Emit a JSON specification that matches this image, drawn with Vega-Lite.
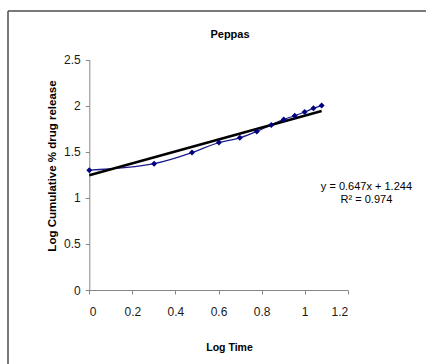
{
  "$schema": "https://vega.github.io/schema/vega-lite/v6.json",
  "width": 418,
  "height": 353,
  "autosize": "none",
  "padding": {"left": 8, "top": 11, "right": 0, "bottom": 0},
  "background": "white",
  "config": {
    "view": {"stroke": "#4d4d4d", "strokeWidth": 1.5, "strokeDash": [418, 771, 353, 0]},
    "font": "Liberation Sans, Arial"
  },
  "title": {
    "text": "Peppas",
    "font": "Liberation Sans, Arial",
    "fontSize": 11,
    "fontWeight": "bold",
    "color": "#000000",
    "anchor": "middle",
    "frame": "group",
    "orient": "top",
    "baseline": "bottom",
    "offset": -40,
    "dx": 13
  },
  "datasets": {
    "release": [
      {"logTime": 0, "logRel": 1.30},
      {"logTime": 0.301, "logRel": 1.37},
      {"logTime": 0.477, "logRel": 1.49},
      {"logTime": 0.602, "logRel": 1.60},
      {"logTime": 0.699, "logRel": 1.65},
      {"logTime": 0.778, "logRel": 1.72},
      {"logTime": 0.845, "logRel": 1.79},
      {"logTime": 0.903, "logRel": 1.85},
      {"logTime": 0.954, "logRel": 1.89},
      {"logTime": 1.0, "logRel": 1.93},
      {"logTime": 1.041, "logRel": 1.97},
      {"logTime": 1.079, "logRel": 2.00}
    ],
    "trend": [
      {"logTime": 0, "fit": 1.244},
      {"logTime": 1.079, "fit": 1.942}
    ],
    "note": [
      {"lx": 1.287, "ly": 1.12, "label": "y = 0.647x + 1.244\nR² = 0.974"}
    ]
  },
  "layer": [
    {
      "data": {"name": "release"},
      "mark": {"type": "line", "interpolate": "monotone", "color": "#1a1a8c", "strokeWidth": 1.2},
      "encoding": {
        "x": {
          "field": "logTime", "type": "quantitative",
          "scale": {"domain": [0, 1.2], "range": [81.3, 339.7], "nice": false},
          "axis": {
            "title": "Log Time",
            "values": [0, 0.2, 0.4, 0.6, 0.8, 1, 1.2],
            "format": "~g",
            "offset": -74,
            "grid": false,
            "domainColor": "#868686",
            "tickColor": "#868686",
            "tickSize": 4,
            "labelFont": "Liberation Sans, Arial",
            "labelFontSize": 12,
            "labelColor": "#1a1a1a",
            "labelPadding": 12,
            "titleFont": "Liberation Sans, Arial",
            "titleFontSize": 10.5,
            "titleFontWeight": "bold",
            "titleColor": "#000000",
            "titleBaseline": "middle",
            "titleX": 221,
            "titleY": 57.7
          }
        },
        "y": {
          "field": "logRel", "type": "quantitative",
          "scale": {"domain": [0, 2.5], "range": [279, 48.5], "nice": false},
          "axis": {
            "title": "Log Cumulative % drug release",
            "values": [0, 0.5, 1, 1.5, 2, 2.5],
            "format": "~g",
            "offset": -81.3,
            "grid": false,
            "domainColor": "#868686",
            "tickColor": "#868686",
            "tickSize": 4,
            "labelFont": "Liberation Sans, Arial",
            "labelFontSize": 12,
            "labelColor": "#1a1a1a",
            "labelPadding": 5,
            "titleFont": "Liberation Sans, Arial",
            "titleFontSize": 11.5,
            "titleFontWeight": "bold",
            "titleColor": "#000000",
            "titleBaseline": "middle",
            "titleX": -36.5,
            "titleY": 154.5
          }
        }
      }
    },
    {
      "data": {"name": "trend"},
      "mark": {"type": "line", "color": "#000000", "strokeWidth": 2.5},
      "encoding": {
        "x": {"field": "logTime", "type": "quantitative"},
        "y": {"field": "fit", "type": "quantitative"}
      }
    },
    {
      "data": {"name": "release"},
      "mark": {"type": "point", "shape": "diamond", "filled": true, "color": "#000080", "size": 36, "opacity": 1},
      "encoding": {
        "x": {"field": "logTime", "type": "quantitative"},
        "y": {"field": "logRel", "type": "quantitative"}
      }
    },
    {
      "data": {"name": "note"},
      "mark": {"type": "text", "align": "center", "baseline": "middle", "lineBreak": "\n", "lineHeight": 13, "fontSize": 11, "font": "Liberation Sans, Arial", "color": "#000000"},
      "encoding": {
        "x": {"field": "lx", "type": "quantitative"},
        "y": {"field": "ly", "type": "quantitative"},
        "text": {"field": "label"}
      }
    }
  ]
}
